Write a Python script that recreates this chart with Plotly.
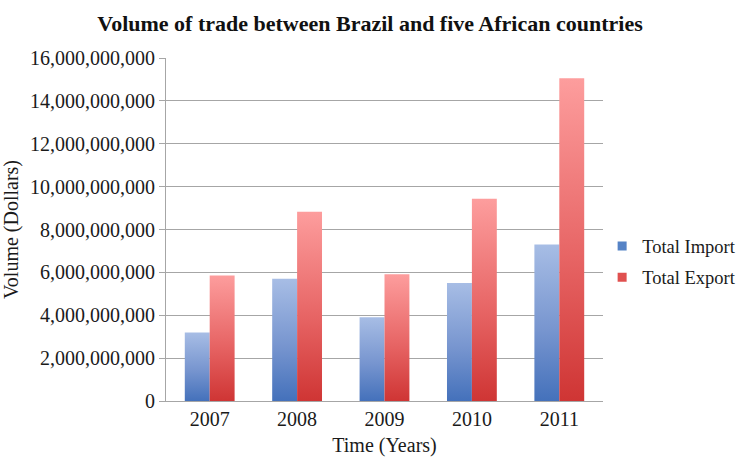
import plotly.graph_objects as go

# Trade volumes (US dollars) between Brazil and five African countries
years = ["2007", "2008", "2009", "2010", "2011"]
total_import = [3.19e9, 5.70e9, 3.91e9, 5.51e9, 7.30e9]
total_export = [5.86e9, 8.83e9, 5.91e9, 9.43e9, 15.05e9]
y_ticks = [0, 2e9, 4e9, 6e9, 8e9, 10e9, 12e9, 14e9, 16e9]

FONT = "Liberation Serif"
BAR_W = 0.285  # bar width in category units

series = [
    ("Total Import", total_import, -1,
     [[0, "#4471bb"], [0.45, "#7795cf"], [1, "#a7bde5"]], "#5583c6"),
    ("Total Export", total_export, 0,
     [[0, "#cf3534"], [0.45, "#e76565"], [1, "#fd9d9d"]], "#e0504f"),
]

fig = go.Figure()

for name, values, side, scale, solid in series:
    # one gradient-filled rectangle per bar
    for i, v in enumerate(values):
        x0 = i + side * BAR_W
        x1 = x0 + BAR_W
        fig.add_trace(go.Scatter(
            x=[x0, x1, x1, x0, x0],
            y=[0, 0, v, v, 0],
            mode="lines",
            fill="toself",
            line=dict(width=0),
            fillgradient=dict(type="vertical", colorscale=scale, start=0, stop=v),
            showlegend=False,
            hovertemplate=f"{name}<br>{years[i]}: %{{customdata:,.0f}}<extra></extra>",
            customdata=[v] * 5,
        ))
    # legend swatch
    fig.add_trace(go.Scatter(
        x=[None], y=[None], mode="markers", name=name,
        legendgroup=name,
        marker=dict(symbol="square", size=9, color=solid),
    ))

fig.update_layout(
    width=740, height=457,
    margin=dict(l=166, r=137, t=58, b=56, autoexpand=False),
    paper_bgcolor="white", plot_bgcolor="white",
    font=dict(family=FONT, color="#1a1a1a", size=18),
    title=dict(
        text="<b>Volume of trade between Brazil and five African countries</b>",
        x=0.5, xanchor="center", y=0.95, yanchor="middle",
        font=dict(family=FONT, size=22, color="#111111"),
    ),
    legend=dict(
        x=0.998, xanchor="left", y=0.405, yanchor="middle",
        font=dict(family=FONT, size=18.5, color="#1a1a1a"),
        traceorder="grouped", tracegroupgap=4,
        itemwidth=30, bgcolor="rgba(0,0,0,0)",
    ),
    showlegend=True,
)

fig.update_xaxes(
    range=[-0.5, 4.5],
    tickmode="array", tickvals=list(range(len(years))), ticktext=years,
    showgrid=False, zeroline=False,
    showline=True, linecolor="#a6a6a6", linewidth=1,
    ticks="", tickfont=dict(size=20),
    title=dict(text="Time (Years)", font=dict(size=20), standoff=9),
)

fig.update_yaxes(
    range=[0, 16e9],
    tickmode="array", tickvals=y_ticks,
    ticktext=[f"{v:,.0f}" for v in y_ticks],
    showgrid=True, gridcolor="#a6a6a6", gridwidth=1,
    zeroline=False,
    showline=True, linecolor="#a6a6a6", linewidth=1,
    ticks="outside", ticklen=6, tickcolor="#a6a6a6",
    tickfont=dict(size=20),
    title=dict(text="Volume (Dollars)", font=dict(size=20), standoff=8),
)

fig.write_html("out.html")
